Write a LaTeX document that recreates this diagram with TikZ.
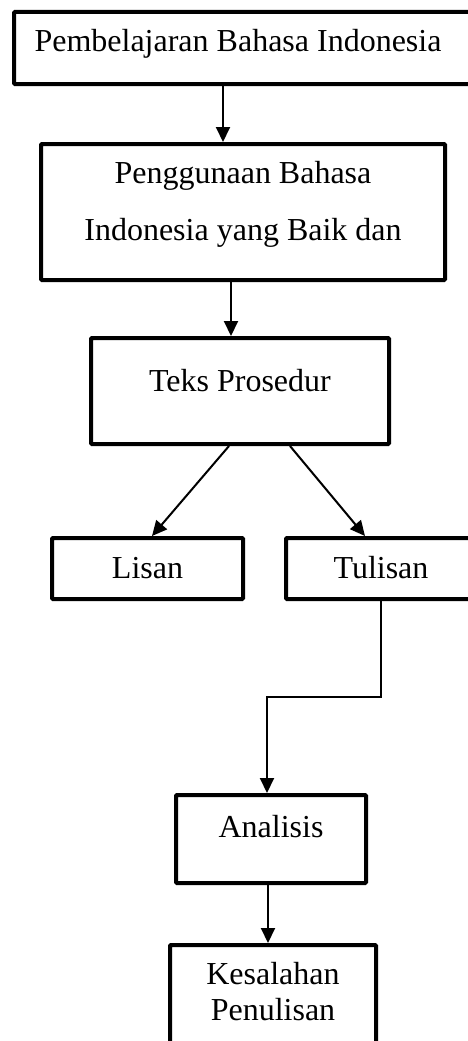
\documentclass[tikz,border=0pt]{standalone}
\usepackage{fontspec}
\setmainfont{Liberation Serif}
\usetikzlibrary{positioning, arrows.meta}

\tikzset{
  kotak/.style={rectangle, draw, line width=4pt, rounded corners=1pt, inner sep=0pt,
    anchor=north west, align=center, font=\fontsize{32}{57}\selectfont},
  panah/.style={-{Triangle[width=14pt,length=15pt]}, line width=2pt}
}

\begin{document}
\begin{tikzpicture}[x=1pt, y=-1pt]
\clip (0,0) rectangle (468,1041);

\node[kotak, minimum width=466pt, text height=40pt, text depth=32pt] (belajar) at (12,10) {Pembelajaran Bahasa Indonesia\hspace*{18pt}};
\node[kotak, minimum width=404pt, text height=96pt, text depth=40pt] (guna) at (39,142) {Penggunaan Bahasa\\Indonesia yang Baik dan};
\node[kotak, minimum width=298pt, text height=53pt, text depth=53pt] (prosedur) at (89,336) {Teks Prosedur};
\node[kotak, minimum width=191pt, text height=40pt, text depth=21pt] (lisan) at (50,536) {Lisan};
\node[kotak, minimum width=190pt, text height=40pt, text depth=21pt] (tulisan) at (284,536) {Tulisan};
\node[kotak, minimum width=190pt, text height=42pt, text depth=46pt] (analisis) at (174,793) {Analisis};
\node[kotak, minimum width=206pt, text height=75pt, text depth=55pt,
  font=\fontsize{32}{36}\selectfont] (salah) at (168,943) {Kesalahan\\Penulisan};

\draw[panah] ([xshift=-24pt]belajar.south) -- ([xshift=-20pt]guna.north);
\draw[panah] ([xshift=-12pt]guna.south) -- ([xshift=-9pt]prosedur.north);
\draw[panah] ([xshift=-11pt]prosedur.south) -- ([xshift=4.5pt]lisan.north);
\draw[panah] ([xshift=50pt]prosedur.south) -- ([xshift=-16pt]tulisan.north);
\draw[panah] (tulisan.south) -- ++(0,96) -| ([xshift=-4pt]analisis.north);
\draw[panah] ([xshift=-3pt]analisis.south) -- ([xshift=-5pt]salah.north);
\end{tikzpicture}
\end{document}
